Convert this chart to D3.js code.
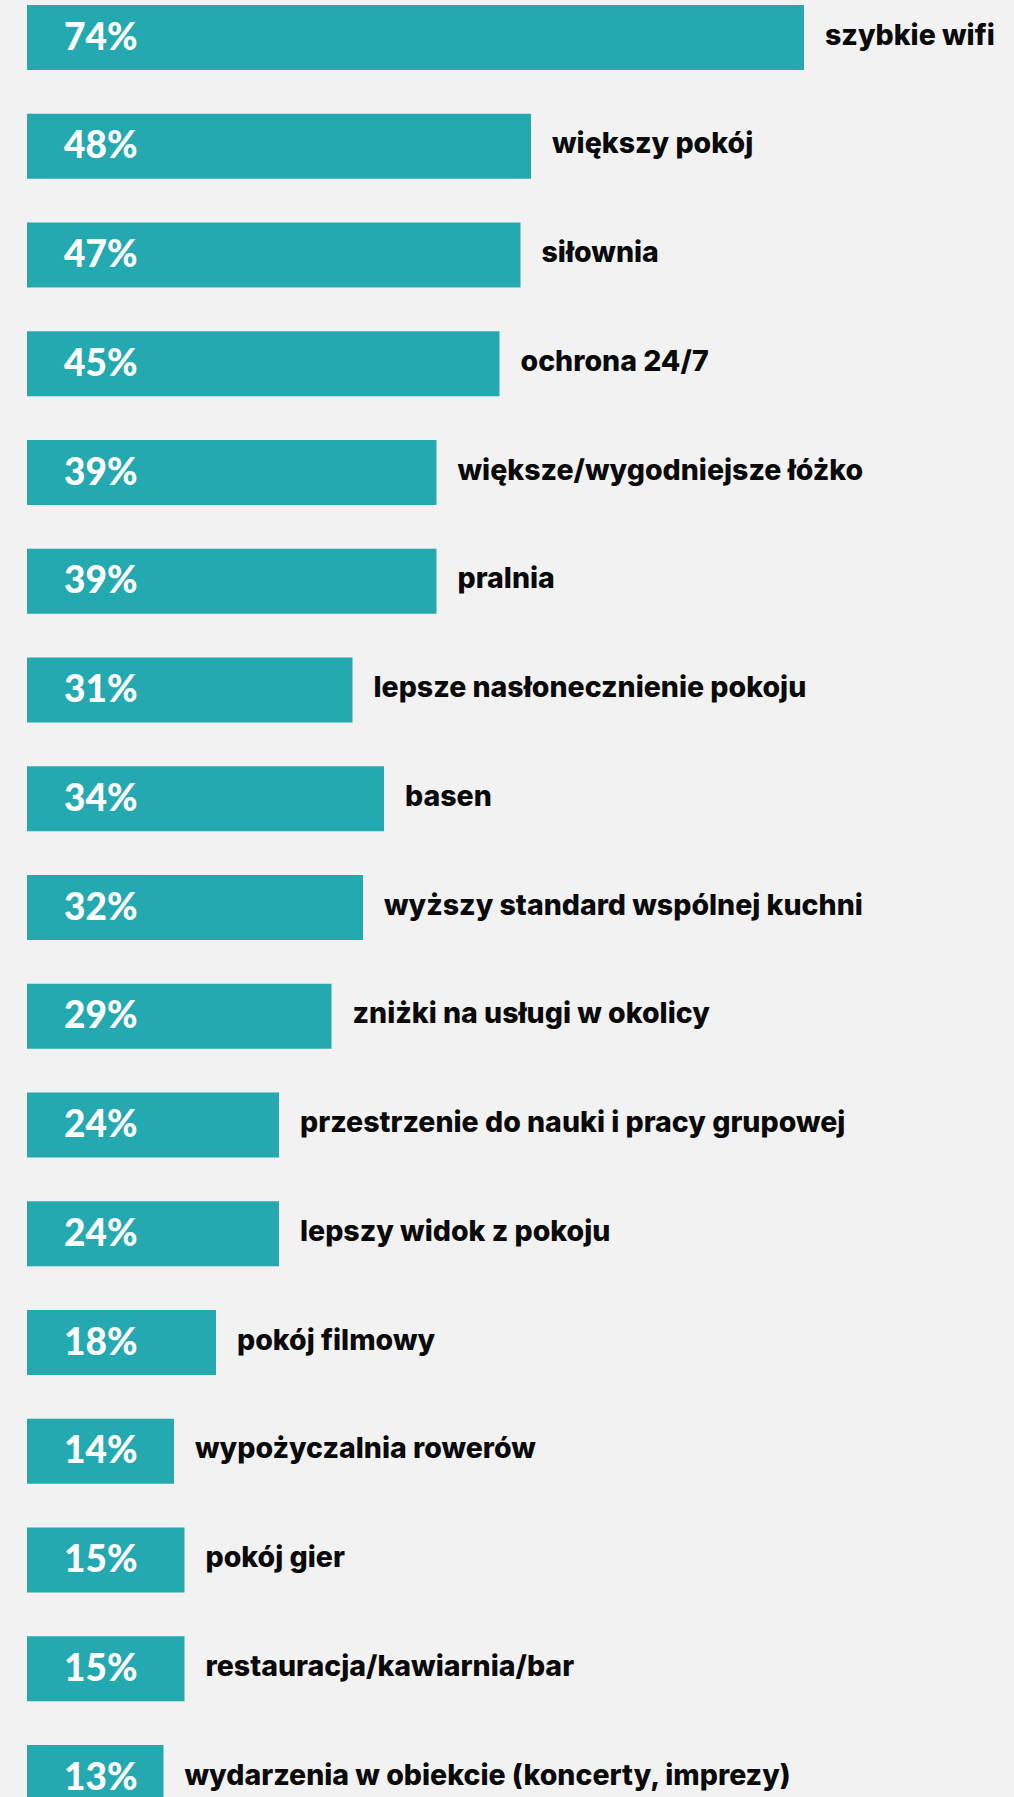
<!DOCTYPE html>
<html lang="pl">
<head>
<meta charset="utf-8">
<script src="https://cdn.jsdelivr.net/npm/d3@7"></script>
<style>
  html, body { margin: 0; padding: 0; background: #f2f2f2; }
  svg { display: block; }
  .pct { font-family: "Lato", sans-serif; font-weight: 900; fill: #ffffff; }
  .cat { font-family: "Inter", sans-serif; font-weight: 800; fill: #0a0a0a; }
</style>
</head>
<body>
<svg id="chart"></svg>
<script>
// Udogodnienia w akademiku – odsetek wskazań
const categories = [
  "szybkie wifi",
  "większy pokój",
  "siłownia",
  "ochrona 24/7",
  "większe/wygodniejsze łóżko",
  "pralnia",
  "lepsze nasłonecznienie pokoju",
  "basen",
  "wyższy standard wspólnej kuchni",
  "zniżki na usługi w okolicy",
  "przestrzenie do nauki i pracy grupowej",
  "lepszy widok z pokoju",
  "pokój filmowy",
  "wypożyczalnia rowerów",
  "pokój gier",
  "restauracja/kawiarnia/bar",
  "wydarzenia w obiekcie (koncerty, imprezy)"
];
const values = [74, 48, 47, 45, 39, 39, 31, 34, 32, 29, 24, 24, 18, 14, 15, 15, 13];

const width = 1014, height = 1797;
const left = 27;
const step = 108.75, barH = 65;
const pad = (step - barH) / step;

const svg = d3.select("#chart")
  .attr("width", width)
  .attr("height", height)
  .attr("viewBox", [0, 0, width, height])
  .style("overflow", "hidden");

svg.append("rect").attr("width", width).attr("height", height).attr("fill", "#f2f2f2");

const x = d3.scaleLinear().domain([0, 100]).range([left, left + 1050]);
const y = d3.scaleBand()
  .domain(categories)
  .range([5 - (step - barH) / 2, 5 - (step - barH) / 2 + categories.length * step])
  .paddingInner(pad)
  .paddingOuter(pad / 2);

const rows = svg.append("g").selectAll("g")
  .data(categories.map((c, i) => ({ c, v: values[i] })))
  .join("g");

rows.append("rect")
  .attr("x", x(0))
  .attr("y", d => y(d.c))
  .attr("width", d => x(d.v) - x(0))
  .attr("height", y.bandwidth())
  .attr("fill", "#24a9b1");

rows.append("text")
  .attr("class", "pct")
  .attr("x", 64)
  .attr("y", d => y(d.c) + y.bandwidth() / 2 + 12)
  .attr("font-size", 37)
  .text(d => d.v + "%");

rows.append("text")
  .attr("class", "cat")
  .attr("x", d => x(d.v) + 21)
  .attr("y", d => y(d.c) + y.bandwidth() / 2 + 7)
  .attr("font-size", 28.5)
  .text(d => d.c);
</script>
</body>
</html>
